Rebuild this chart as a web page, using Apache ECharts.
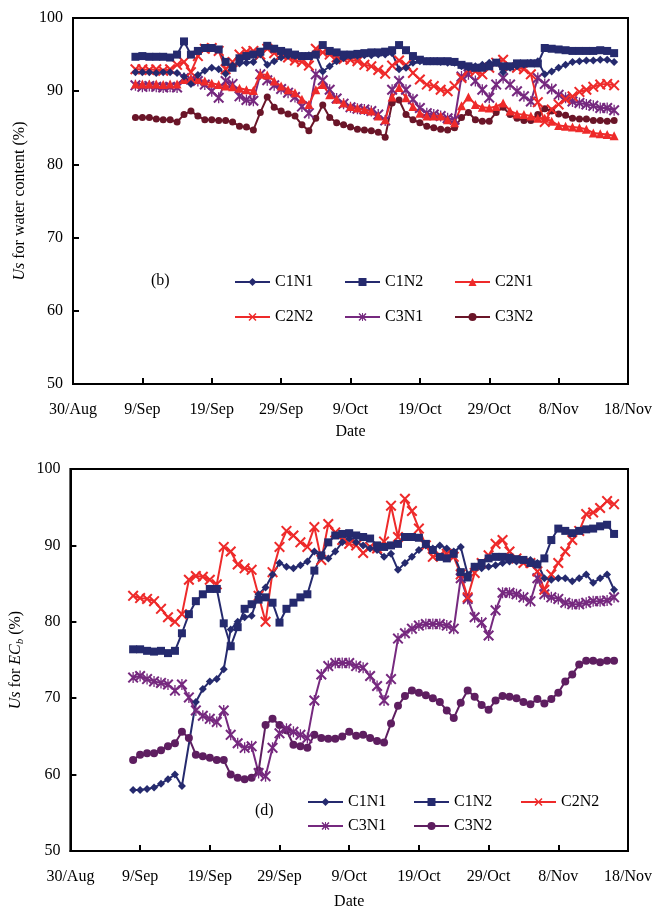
<!DOCTYPE html>
<html>
<head>
<meta charset="utf-8">
<script src="https://cdn.jsdelivr.net/npm/echarts@6/dist/echarts.min.js"></script>
<style>
  html, body { margin: 0; padding: 0; background: #fff; }
  #chart { width: 655px; height: 911px; }
</style>
</head>
<body>
<div id="chart"></div>
<script>
// x axis = days after 30/Aug, one tick label every 10 days
var tickLabels = ['30/Aug', '9/Sep', '19/Sep', '29/Sep', '9/Oct', '19/Oct', '29/Oct', '8/Nov', '18/Nov']
var firstDay = 9 // first measurement = 8/Sep, daily up to 16/Nov

// (b) Us for water content
var wcC1N1 = [92.6, 92.6, 92.6, 92.5, 92.6, 92.6, 92.5, 92.0, 91.0, 92.2,
  92.8, 93.2, 93.0, 92.4, 93.5, 93.8, 93.9, 94.0, 95.0, 93.6,
  94.1, 94.6, 94.8, 94.8, 94.8, 94.9, 95.0, 92.7, 93.4, 94.1,
  94.5, 94.8, 94.8, 94.9, 94.9, 95.0, 95.0, 95.2, 93.0, 93.2,
  93.9, 94.1, 94.1, 94.1, 94.0, 93.9, 93.9, 93.4, 93.2, 93.4,
  93.6, 93.9, 93.9, 92.6, 93.2, 93.4, 93.6, 93.9, 94.1, 92.3,
  92.7, 93.2, 93.6, 94.0, 94.1, 94.2, 94.2, 94.3, 94.3, 94.0]
var wcC1N2 = [94.7, 94.8, 94.7, 94.7, 94.7, 94.6, 95.0, 96.8, 95.0, 95.5,
  95.9, 95.9, 95.7, 94.0, 93.2, 94.5, 94.8, 95.0, 95.4, 96.2,
  95.8, 95.5, 95.3, 95.0, 94.8, 94.8, 95.0, 96.3, 95.5, 95.3,
  95.0, 95.0, 95.1, 95.2, 95.3, 95.3, 95.4, 95.6, 96.3, 95.6,
  94.8, 94.3, 94.1, 94.1, 94.1, 94.1, 94.0, 93.6, 93.4, 93.2,
  93.2, 93.4, 93.9, 93.4, 93.4, 93.8, 93.8, 93.8, 93.8, 95.9,
  95.8, 95.7, 95.6, 95.5, 95.5, 95.5, 95.5, 95.6, 95.5, 95.2]
var wcC2N1 = [91.0, 91.0, 91.0, 91.0, 90.9, 91.0, 91.0, 91.6, 91.7, 91.6,
  91.4, 91.1, 90.9, 90.7, 90.6, 90.4, 90.2, 90.1, 92.3, 92.2,
  91.4, 90.7, 90.2, 89.8, 88.9, 88.2, 90.2, 90.9, 89.5, 88.9,
  88.4, 87.9, 87.7, 87.5, 87.3, 86.6, 86.1, 89.2, 90.5, 89.1,
  87.9, 87.0, 86.6, 86.6, 86.6, 86.1, 85.7, 88.0, 89.2, 88.2,
  87.8, 87.7, 87.9, 88.4, 87.3, 86.9, 86.8, 86.6, 86.3, 86.3,
  85.9, 85.3, 85.2, 85.1, 85.0, 84.8, 84.3, 84.2, 84.1, 83.9]
var wcC2N2 = [93.0, 93.0, 92.9, 93.0, 92.8, 93.0, 93.6, 94.0, 92.6, 94.8,
  95.8, 95.9, 95.5, 93.0, 94.0, 95.0, 95.4, 95.5, 95.0, 95.8,
  95.2, 95.0, 94.6, 94.2, 94.0, 93.5, 95.8, 95.3, 95.0, 94.6,
  94.4, 94.3, 94.1, 93.6, 93.4, 92.9, 92.4, 93.5, 94.2, 93.6,
  92.5, 91.6, 90.9, 90.7, 90.2, 90.0, 90.7, 91.8, 92.9, 92.7,
  92.3, 93.2, 93.9, 94.3, 93.4, 93.2, 93.0, 92.3, 88.5, 85.8,
  87.5, 88.2, 88.9, 89.3, 89.9, 90.2, 90.6, 90.9, 91.0, 90.8]
var wcC3N1 = [90.8, 90.6, 90.7, 90.6, 90.5, 90.6, 90.5, 91.8, 91.6, 91.4,
  90.9, 90.0, 89.1, 91.4, 91.0, 89.3, 88.8, 88.7, 92.3, 91.5,
  90.8, 90.3, 89.8, 89.2, 87.9, 87.0, 92.3, 91.5, 90.2, 89.0,
  88.3, 87.8, 87.6, 87.5, 87.3, 86.8, 86.0, 90.2, 91.4, 90.2,
  88.9, 87.7, 87.0, 86.8, 86.6, 86.3, 86.1, 92.0, 92.3, 91.4,
  90.2, 89.1, 90.9, 91.8, 90.9, 90.0, 89.3, 88.6, 91.8, 91.0,
  90.3, 89.5, 89.1, 88.6, 88.4, 88.2, 88.0, 87.7, 87.7, 87.4]
var wcC3N2 = [86.4, 86.4, 86.4, 86.2, 86.1, 86.1, 85.8, 86.8, 87.3, 86.6,
  86.1, 86.1, 86.0, 86.0, 85.8, 85.2, 85.1, 84.7, 87.1, 89.2,
  87.8, 87.3, 86.9, 86.6, 85.4, 84.6, 86.3, 88.1, 86.4, 85.7,
  85.4, 85.1, 84.8, 84.7, 84.6, 84.4, 83.7, 88.4, 88.8, 86.8,
  86.1, 85.7, 85.2, 85.0, 84.8, 84.7, 85.0, 86.4, 87.1, 86.1,
  85.9, 85.9, 87.1, 87.8, 86.8, 86.3, 86.0, 86.0, 86.8, 87.6,
  87.3, 86.9, 86.7, 86.3, 86.2, 86.2, 86.0, 86.0, 85.9, 86.0]

// (d) Us for ECb  (null = no measurement that day)
var ecC1N1 = [58.0, 58.0, 58.1, 58.3, 58.8, 59.4, 60.0, 58.5, null, 69.5,
  71.2, 72.2, 72.5, 73.8, 79.0, 80.0, 80.6, 80.8, 83.6, 84.5,
  86.2, 87.7, 87.2, 87.0, 87.4, 87.9, 89.2, 88.5, 88.3, 89.2,
  90.4, 90.9, 90.4, 90.0, 89.6, 89.4, 88.5, 88.9, 86.8, 87.7,
  88.5, 89.4, 90.0, 89.6, 90.0, 89.6, 89.2, 89.8, 86.2, 87.2,
  87.0, 87.2, 87.4, 87.7, 87.9, 87.9, 88.1, 88.1, 87.7, 85.7,
  85.5, 85.7, 85.7, 85.3, 85.7, 86.2, 85.1, 85.7, 86.2, 84.2]
var ecC1N2 = [76.4, 76.4, 76.2, 76.1, 76.2, 75.9, 76.2, 78.5, 81.0, 82.7,
  83.6, 84.3, 84.3, 79.8, 76.8, 79.3, 81.7, 82.3, 82.9, 83.2,
  82.5, 79.9, 81.7, 82.5, 83.2, 83.6, 86.7, 88.7, 90.4, 91.3,
  91.5, 91.6, 91.3, 91.1, 90.9, 90.0, 89.8, 90.0, 90.2, 91.1,
  91.1, 91.0, 90.2, 89.4, 88.5, 88.3, 88.9, 86.5, 85.8, 87.2,
  87.7, 88.3, 88.5, 88.5, 88.4, 88.2, 88.1, 87.7, 87.5, 88.3,
  90.7, 92.2, 91.9, 91.6, 91.9, 92.1, 92.2, 92.5, 92.7, 91.5]
var ecC2N2 = [83.4, 83.1, 83.0, 82.7, 81.7, 80.6, 80.0, 81.0, 85.5, 86.0,
  85.9, 85.5, 84.9, 89.8, 89.2, 87.5, 87.0, 86.8, 83.4, 80.0,
  86.5, 89.8, 91.9, 91.3, 90.4, 89.8, 92.4, 88.1, 92.8, 91.7,
  90.7, 90.2, 90.0, 89.0, 89.8, 89.6, 90.5, 95.2, 91.1, 96.1,
  94.5, 92.2, 90.0, 88.5, 88.7, 88.9, 88.5, 86.2, 83.2, 86.4,
  87.7, 88.7, 90.2, 90.7, 89.2, 88.3, 87.7, 87.7, 86.6, 84.2,
  86.2, 87.7, 89.2, 90.7, 91.9, 94.1, 94.3, 94.9, 95.8, 95.4]
var ecC3N1 = [72.7, 72.9, 72.5, 72.2, 72.0, 71.8, 71.0, 71.8, 70.1, 68.4,
  67.7, 67.3, 66.9, 68.4, 65.2, 64.1, 63.5, 63.7, 60.2, 59.8,
  63.5, 65.4, 66.0, 65.6, 65.2, 64.8, 69.7, 73.1, 74.2, 74.6,
  74.6, 74.6, 74.2, 74.0, 72.9, 71.6, 69.7, 72.5, 77.8, 78.5,
  79.1, 79.5, 79.7, 79.7, 79.7, 79.5, 79.1, 85.7, 83.0, 80.6,
  79.9, 78.2, 81.5, 83.8, 83.8, 83.6, 83.2, 82.7, 85.7, 83.6,
  83.2, 83.0, 82.5, 82.3, 82.3, 82.5, 82.7, 82.7, 82.8, 83.2]
var ecC3N2 = [61.9, 62.6, 62.8, 62.8, 63.2, 63.7, 64.1, 65.6, 64.8, 62.6,
  62.4, 62.2, 61.9, 61.9, 60.0, 59.6, 59.4, 59.6, 60.5, 66.5,
  67.3, 66.5, 65.8, 63.9, 63.7, 63.5, 65.2, 64.8, 64.7, 64.7,
  65.0, 65.6, 65.1, 65.2, 64.8, 64.4, 64.2, 66.7, 69.0, 70.3,
  71.0, 70.7, 70.4, 70.0, 69.5, 68.4, 67.4, 69.4, 71.0, 70.2,
  69.1, 68.5, 69.7, 70.3, 70.2, 70.0, 69.5, 69.2, 69.9, 69.3,
  69.9, 70.7, 72.2, 73.1, 74.4, 74.9, 74.9, 74.7, 74.9, 74.9]

var FONT = 'Liberation Serif'
var NAVY = '#252a6e'
var RED = '#ee2a2a'
var PURPLE = '#76297f'
var MAROON = '#6a1528'
var PLUM = '#5e1e60'

// filled outlines for the x and asterisk markers
var xMark = 'path://M0,1.3L1.3,0L5,3.7L8.7,0L10,1.3L6.3,5L10,8.7L8.7,10L5,6.3L1.3,10L0,8.7L3.7,5Z'
var starMark = xMark + 'M4.4,0L5.6,0L5.6,10L4.4,10Z'

function toPoints (arr) {
  var out = []
  arr.forEach(function (v, i) {
    if (v !== null) out.push([firstDay + i, v])
  })
  return out
}

function line (name, idx, data, color, symbol, size) {
  return {
    name: name,
    type: 'line',
    xAxisIndex: idx,
    yAxisIndex: idx,
    data: toPoints(data),
    symbol: symbol,
    symbolSize: size,
    showSymbol: true,
    lineStyle: { color: color, width: 2 },
    itemStyle: { color: color },
    animation: false
  }
}

function xAxisFor (idx, gap) {
  return {
    type: 'value',
    gridIndex: idx,
    min: 0,
    max: 80,
    interval: 10,
    name: 'Date',
    nameLocation: 'middle',
    nameGap: gap,
    nameTextStyle: { fontFamily: FONT, fontSize: 16, color: '#000' },
    axisLine: { lineStyle: { color: '#000', width: 2 } },
    axisTick: { inside: true, length: 6, lineStyle: { color: '#000', width: 2 } },
    axisLabel: {
      margin: 18,
      fontFamily: FONT,
      fontSize: 16,
      color: '#000',
      formatter: function (v) { return tickLabels[v / 10] }
    },
    splitLine: { show: false }
  }
}

function yAxisFor (idx, name, rich, gap) {
  return {
    type: 'value',
    gridIndex: idx,
    min: 50,
    max: 100,
    interval: 10,
    name: name,
    nameLocation: 'middle',
    nameGap: gap,
    nameRotate: 90,
    nameTextStyle: { fontFamily: FONT, fontSize: 16, color: '#000', rich: rich },
    axisLine: { lineStyle: { color: '#000', width: 2 } },
    axisTick: { inside: true, length: 6, lineStyle: { color: '#000', width: 2 } },
    axisLabel: { margin: 10, fontFamily: FONT, fontSize: 16, color: '#000' },
    splitLine: { show: false }
  }
}

function legendItem (name, left, top) {
  return {
    data: [name],
    left: left,
    top: top,
    padding: 0,
    itemWidth: 35,
    itemHeight: 10,
    selectedMode: false,
    textStyle: { fontFamily: FONT, fontSize: 16, color: '#000' }
  }
}

var italic = { fontFamily: FONT, fontSize: 16, fontStyle: 'italic', color: '#000' }

var chart = echarts.init(document.getElementById('chart'))
chart.setOption({
  backgroundColor: '#fff',
  grid: [
    { left: 73, top: 18, width: 557, height: 366, show: true, borderColor: '#000', borderWidth: 2 },
    { left: 70, top: 469, width: 560, height: 389, show: true, borderColor: '#000', borderWidth: 2 }
  ],
  xAxis: [xAxisFor(0, 40), xAxisFor(1, 43)],
  yAxis: [
    yAxisFor(0, '{i|Us} for water content (%)', { i: italic }, 44),
    yAxisFor(1, '{i|Us} for {i|EC}{s|b} (%)', {
      i: italic,
      s: { fontFamily: FONT, fontSize: 11, fontStyle: 'italic', color: '#000', padding: [8, 0, 0, 0] }
    }, 44)
  ],
  legend: [
    legendItem('C1N1', 234, 274),
    legendItem('C1N2', 344, 274),
    legendItem('C2N1', 454, 274),
    legendItem('C2N2', 234, 309),
    legendItem('C3N1', 344, 309),
    legendItem('C3N2', 454, 309),
    legendItem('C1N1 ', 307, 794),
    legendItem('C1N2 ', 413, 794),
    legendItem('C2N2 ', 520, 794),
    legendItem('C3N1 ', 307, 818),
    legendItem('C3N2 ', 413, 818)
  ],
  graphic: [
    { type: 'text', left: 151, top: 273, style: { text: '(b)', font: '16px "Liberation Serif"', fill: '#000' } },
    { type: 'text', left: 255, top: 803, style: { text: '(d)', font: '16px "Liberation Serif"', fill: '#000' } }
  ],
  series: [
    line('C3N2', 0, wcC3N2, MAROON, 'circle', 7),
    line('C3N1', 0, wcC3N1, PURPLE, starMark, 11),
    line('C2N1', 0, wcC2N1, RED, 'triangle', 9),
    line('C2N2', 0, wcC2N2, RED, xMark, 11),
    line('C1N1', 0, wcC1N1, NAVY, 'diamond', 8),
    line('C1N2', 0, wcC1N2, NAVY, 'rect', 8),
    // trailing space keeps the lower legend separate from the upper one
    line('C3N2 ', 1, ecC3N2, PLUM, 'circle', 8),
    line('C3N1 ', 1, ecC3N1, PURPLE, starMark, 11),
    line('C2N2 ', 1, ecC2N2, RED, xMark, 11),
    line('C1N1 ', 1, ecC1N1, NAVY, 'diamond', 8),
    line('C1N2 ', 1, ecC1N2, NAVY, 'rect', 8)
  ]
})
</script>
</body>
</html>
